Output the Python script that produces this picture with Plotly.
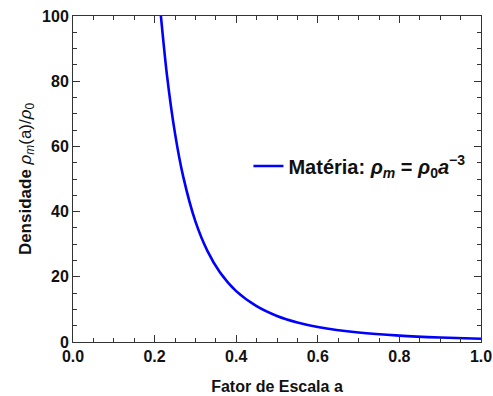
import plotly.graph_objects as go

# Values
scale_factor = [0.215, 0.23, 0.25, 0.27, 0.30, 0.33, 0.36, 0.40, 0.45, 0.50, 0.55, 0.60, 0.70, 0.80, 0.90, 1.00]
density = [100.6, 82.2, 64.0, 50.8, 37.0, 27.8, 21.4, 15.6, 11.0, 8.0, 6.0, 4.63, 2.92, 1.95, 1.37, 1.00]

x_ticks = [0.0, 0.2, 0.4, 0.6, 0.8, 1.0]
y_ticks = [0, 20, 40, 60, 80, 100]

FONT = "Liberation Sans, Arial"

fig = go.Figure()
fig.add_trace(go.Scatter(
    x=scale_factor, y=density, mode="lines",
    line=dict(color="#0000ff", width=2.6, shape="spline", smoothing=0.8),
    name="<b>Matéria: <i>ρ<sub>m</sub></i> = <i>ρ</i><sub>0</sub><i>a</i><sup>−3</sup></b>",
    showlegend=True,
))

axis_common = dict(
    showline=True, linecolor="#333333", linewidth=1, mirror="ticks",
    ticks="inside", ticklen=7, tickcolor="#333333", tickwidth=1,
    showgrid=False, zeroline=False, automargin=False,
    tickfont=dict(family=FONT, size=16, color="#111111", weight="bold"),
)

fig.update_xaxes(
    range=[0, 1], tickvals=x_ticks, ticktext=[f"{v:.1f}" for v in x_ticks],
    minor=dict(ticks="inside", ticklen=4, dtick=0.05, tickcolor="#333333"),
    title=dict(text="<b>Fator de Escala a</b>", font=dict(family=FONT, size=16, color="#111111"), standoff=16),
    **axis_common,
)
fig.update_yaxes(
    range=[0, 100], tickvals=y_ticks, ticktext=[str(v) for v in y_ticks],
    minor=dict(ticks="inside", ticklen=4, dtick=5, tickcolor="#333333"),
    title=dict(text="<b>Densidade</b> <i>ρ<sub>m</sub></i>(a)/<i>ρ</i><sub>0</sub>", font=dict(family=FONT, size=17, color="#111111"), standoff=6),
    **axis_common,
)

fig.update_layout(
    width=493, height=396,
    margin=dict(l=73, r=12, t=16, b=54),
    plot_bgcolor="white", paper_bgcolor="white",
    legend=dict(x=0.43, y=0.54, xanchor="left", yanchor="middle",
                bgcolor="rgba(0,0,0,0)",
                font=dict(family=FONT, size=20, color="#111111")),
)

fig.write_html("out.html")
